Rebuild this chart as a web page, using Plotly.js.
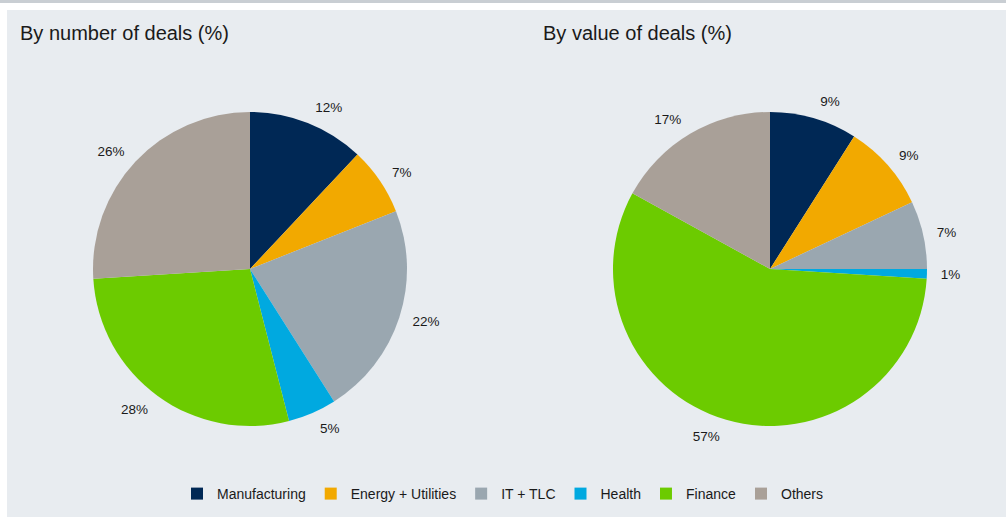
<!DOCTYPE html>
<html>
<head>
<meta charset="utf-8">
<script src="https://cdn.plot.ly/plotly-3.0.1.min.js"></script>
<style>html,body{margin:0;padding:0;background:#fff;}#chart{width:1006px;height:519px;}</style>
</head>
<body>
<div id="chart"></div>
<script>
const categories = ["Manufacturing", "Energy + Utilities", "IT + TLC", "Health", "Finance", "Others"];
const byNumber = [12, 7, 22, 5, 28, 26];
const byValue = [9, 9, 7, 1, 57, 17];
const colors = ["#002855", "#f2a900", "#9aa7b0", "#00a9e0", "#6ccb00", "#a9a098"];
const titles = ["By number of deals (%)", "By value of deals (%)"];

const W = 1006, H = 519, R = 157, LABEL_R = 167;
function dom(cx, cy, r) {
  return {
    x: [(cx - r) / W, (cx + r) / W],
    y: [(H - cy - r) / H, (H - cy + r) / H]
  };
}

// visible slices
function pie(values, d, showlegend) {
  return {
    type: "pie",
    labels: categories,
    values: values,
    sort: false,
    direction: "clockwise",
    rotation: 0,
    domain: d,
    marker: { colors: colors, line: { width: 0 } },
    textposition: "none",
    hoverinfo: "label+value",
    showlegend: showlegend
  };
}
// transparent slightly larger pie that carries the outside percentage labels
function labelPie(values, d) {
  return {
    type: "pie",
    labels: categories,
    values: values,
    sort: false,
    direction: "clockwise",
    rotation: 0,
    domain: d,
    marker: { colors: categories.map(() => "rgba(0,0,0,0)"), line: { width: 0 } },
    textposition: "outside",
    texttemplate: "%{value}%",
    hoverinfo: "skip",
    outsidetextfont: { size: 13.5, color: "#1a1a1a" },
    showlegend: false
  };
}

const data = [
  pie(byNumber, dom(250, 269, R), true),
  pie(byValue, dom(770, 269, R), false),
  labelPie(byNumber, dom(250, 269, LABEL_R)),
  labelPie(byValue, dom(770, 269, LABEL_R))
];

const layout = {
  width: W, height: H,
  margin: { l: 0, r: 0, t: 0, b: 0 },
  paper_bgcolor: "#ffffff",
  font: { family: "Liberation Sans, Arial, sans-serif", color: "#1a1a1a" },
  shapes: [
    { type: "rect", xref: "paper", yref: "paper", x0: 0, x1: 1, y0: (H - 3) / H, y1: 1,
      fillcolor: "#c9ced3", line: { width: 0 }, layer: "below" },
    { type: "rect", xref: "paper", yref: "paper", x0: 7 / W, x1: 1, y0: 2 / H, y1: (H - 10) / H,
      fillcolor: "#e8ecf0", line: { width: 0 }, layer: "below" }
  ],
  annotations: [
    { text: titles[0], xref: "paper", yref: "paper", x: 18 / W, y: (H - 33) / H,
      xanchor: "left", yanchor: "middle", showarrow: false, font: { size: 20, color: "#1a1a1a" } },
    { text: titles[1], xref: "paper", yref: "paper", x: 541 / W, y: (H - 33) / H,
      xanchor: "left", yanchor: "middle", showarrow: false, font: { size: 20, color: "#1a1a1a" } }
  ],
  legend: {
    orientation: "h", x: 0.5, xanchor: "center", y: (H - 494) / H, yanchor: "middle",
    font: { size: 14, color: "#1a1a1a" }, bgcolor: "rgba(0,0,0,0)", itemwidth: 30,
    traceorder: "normal"
  }
};

Plotly.newPlot("chart", data, layout, { displayModeBar: false, staticPlot: true });
</script>
</body>
</html>
